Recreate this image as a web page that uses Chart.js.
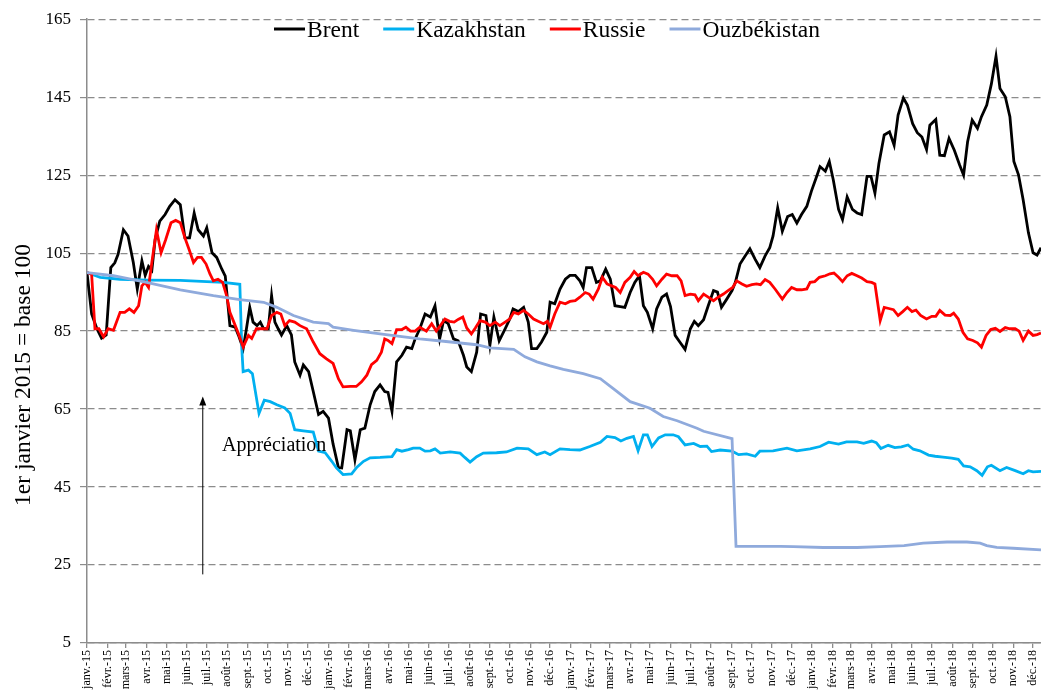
<!DOCTYPE html>
<html><head><meta charset="utf-8">
<script src="https://cdn.jsdelivr.net/npm/chart.js@4.4.0/dist/chart.umd.min.js"></script>
<style>html,body{margin:0;padding:0;background:#fff;}canvas{display:block;}</style>
</head><body>
<canvas id="c" width="1041" height="700"></canvas>
<script>
// ---- Tick labels ----
const monthNames = ['janv.','févr.','mars','avr.','mai','juin','juil.','août','sept.','oct.','nov.','déc.'];
const years = [15,16,17,18];
const yTicks = [5,25,45,65,85,105,125,145,165];
const seriesNames = ['Brent','Kazakhstan','Russie','Ouzbékistan'];
const yTitle = '1er janvier 2015 = base 100';
const annotationText = 'Appréciation';

// ---- Series: [days since 1 Jan 2015, index (1 Jan 2015 = 100)] ----
const brent = [[0,100],[7,89.4],[15,85.6],[22,83.2],[29,84],[36,101.3],[42,102.5],[47,104.7],[55,111],[62,109.4],[70,102.6],[76,95.8],[83,103],[88,99.3],[93,101.6],[98,100.6],[103,108.5],[110,113.2],[118,114.9],[125,117],[133,118.7],[141,117.4],[148,108.9],[155,108.9],[162,115.3],[168,111],[176,109.4],[181,111.5],[189,105.1],[196,103.9],[204,100.8],[209,99.1],[216,86.4],[224,86],[229,83.9],[236,80.5],[241,85.6],[246,91.1],[251,87.3],[257,86.4],[262,87.3],[267,85.6],[274,85.6],[279,94.1],[284,87.3],[289,85.6],[294,84],[302,86.4],[309,84],[314,77.1],[322,73.7],[327,76.3],[335,74.6],[342,69.5],[350,63.6],[357,64.4],[365,62.7],[372,56],[380,50],[385,49.9],[393,59.7],[398,59.4],[405,52],[413,59.7],[420,60.1],[428,66.1],[435,69.5],[443,71.2],[450,69.5],[455,69.3],[461,64.4],[468,77.1],[476,78.8],[483,80.9],[491,80.5],[496,83],[503,85.6],[511,89.4],[519,88.6],[526,91.5],[533,83],[539,87.7],[546,86.9],[554,83],[561,82.5],[569,78.8],[574,75.8],[581,74.6],[589,79.6],[595,89.4],[603,89],[609,81.4],[615,88.6],[623,82.5],[632,85.6],[639,88.1],[644,90.7],[652,90],[660,91.1],[667,87.3],[672,80.5],[680,80.5],[687,82.2],[695,84.7],[700,92.4],[707,92],[715,95.8],[723,98.3],[730,99.3],[738,99.3],[745,97.9],[750,96.2],[755,101.3],[763,101.3],[770,97.5],[776,97.9],[784,100.9],[791,98.3],[798,91.5],[806,91.3],[813,91.1],[821,94.9],[828,97.5],[835,99.2],[841,91.5],[847,89.8],[855,85.6],[861,90.7],[869,93.7],[876,94.5],[882,91.3],[889,83.9],[896,82.2],[904,80.3],[912,85.6],[918,87.5],[924,86.4],[932,87.9],[939,91.5],[947,95.4],[953,95],[959,91.1],[967,93.2],[975,95.4],[980,97.5],[987,102.2],[995,104.3],[1002,106.1],[1010,103.4],[1017,101.3],[1025,104.3],[1032,106.4],[1037,109.4],[1044,116.6],[1051,110.6],[1059,114.4],[1066,114.9],[1073,112.7],[1080,114.9],[1088,117],[1095,120.9],[1103,124.7],[1108,127.2],[1116,126],[1122,128.5],[1128,123.8],[1136,116.2],[1142,113.6],[1149,119.4],[1157,116.2],[1164,115.3],[1171,114.9],[1179,124.7],[1185,124.7],[1191,120.4],[1197,128],[1205,135.3],[1213,136.1],[1220,132.7],[1226,140.4],[1234,144.8],[1240,143],[1248,138.2],[1255,135.9],[1262,134.8],[1269,131.6],[1274,137.8],[1283,139.3],[1289,130.1],[1296,130],[1303,134.4],[1311,131.4],[1319,127.6],[1325,125],[1331,133.5],[1338,139.1],[1346,137],[1352,140],[1360,143],[1367,148.4],[1374,155.5],[1380,147.2],[1388,145.1],[1395,140],[1401,128.5],[1408,125.1],[1415,118.7],[1423,110.2],[1430,105.1],[1436,104.5],[1442,106.4]];

const kazakhstan = [[0,100],[20,98.8],[50,98.3],[90,98.1],[141,98],[181,97.7],[206,97.5],[231,97],[234,80.5],[236,74.6],[244,75],[250,74.1],[260,63.9],[268,67.3],[277,66.9],[287,66.1],[299,65.3],[307,63.9],[314,59.7],[327,59.4],[342,59.1],[350,54.2],[360,53.8],[370,51.6],[377,49.9],[387,48.2],[400,48.4],[408,50.1],[418,51.6],[428,52.5],[443,52.6],[461,52.8],[468,54.6],[476,54.2],[486,54.6],[493,55],[503,55],[511,54.2],[519,54.3],[526,54.8],[534,53.7],[549,54],[564,53.7],[571,52.6],[579,51.4],[589,52.8],[599,53.7],[619,53.8],[634,54],[650,55],[667,54.8],[680,53.3],[692,54],[700,53.3],[715,54.8],[730,54.6],[745,54.5],[760,55.4],[776,56.5],[786,58],[798,57.7],[807,56.8],[816,57.5],[826,58],[833,54.3],[841,58.4],[847,58.4],[854,55.4],[864,57.6],[874,58.4],[886,58.4],[894,57.9],[904,55.8],[917,56.2],[927,55.4],[937,55.5],[944,54.1],[957,54.5],[975,54.2],[985,53.3],[997,53.5],[1010,52.9],[1017,54.2],[1037,54.3],[1058,55],[1073,54.3],[1093,54.8],[1108,55.4],[1121,56.5],[1136,56],[1148,56.6],[1164,56.6],[1174,56.2],[1186,56.8],[1193,56.4],[1200,54.9],[1211,55.7],[1221,55.1],[1231,55.3],[1241,55.8],[1249,54.7],[1259,54.3],[1272,53.2],[1282,52.9],[1294,52.7],[1307,52.4],[1317,52.1],[1325,50.4],[1335,50.2],[1345,49.2],[1353,48],[1361,50.2],[1367,50.6],[1380,49.2],[1390,50],[1403,49.2],[1415,48.4],[1423,49.2],[1430,48.9],[1442,49]];

const russie = [[0,100],[7,99.6],[12,85.6],[18,85.6],[25,83.5],[32,85.6],[40,85.2],[50,89.8],[57,89.8],[64,90.7],[71,89.8],[78,91.5],[83,96.6],[88,97.5],[93,96.2],[98,102.6],[105,111],[112,105.1],[119,108.5],[127,112.8],[134,113.4],[141,112.8],[148,108.9],[155,105.6],[161,102.6],[167,103.9],[173,103.9],[180,102.2],[186,99.6],[191,97.9],[198,98.3],[205,97.5],[211,94.1],[216,89.8],[222,87.3],[229,84.3],[236,80.9],[244,83.9],[249,83.1],[256,85.6],[264,85.6],[272,85.6],[279,89],[287,89.8],[293,89.4],[299,86.4],[306,87.7],[314,87.3],[322,86.4],[332,85.6],[342,82.2],[352,79.2],[362,77.9],[372,76.7],[380,72.8],[387,70.7],[398,70.8],[407,70.8],[415,72],[423,73.7],[430,76.4],[438,77.5],[445,79.6],[450,83],[455,82.6],[461,81.8],[468,85.4],[476,85.4],[482,86],[489,85],[496,85],[503,86],[513,85],[521,86.9],[528,85],[536,86.9],[541,88.1],[548,87.5],[555,87.3],[561,88],[568,88.6],[574,85.8],[581,84.3],[587,85.8],[594,87.7],[602,87.3],[609,86.4],[617,87.3],[624,86.4],[632,87.3],[639,88.1],[645,89.8],[652,89.4],[660,90.3],[667,89.4],[675,88.1],[682,87.5],[690,86.9],[696,87.5],[700,86],[707,89.4],[715,92.4],[723,92],[730,92.6],[738,92.8],[745,93.7],[753,94.9],[759,94.5],[765,93.2],[773,95.8],[779,98.8],[786,97.1],[793,96.6],[799,96.2],[806,94.9],[813,97.5],[821,98.8],[827,100.3],[833,99.2],[841,100.1],[848,99.6],[855,98.3],[861,96.6],[869,98.3],[876,99.6],[884,99.2],[892,99.2],[898,97.9],[904,94.1],[912,94.5],[919,94.3],[924,92.8],[932,94.5],[939,93.7],[947,92.8],[954,93.7],[962,94.5],[969,95.4],[976,96.2],[982,97.9],[990,97.1],[997,96.5],[1005,96.9],[1012,97.1],[1018,96.9],[1025,98.2],[1032,97.5],[1040,95.8],[1051,93.2],[1058,94.9],[1065,96.2],[1073,95.6],[1080,95.6],[1088,95.8],[1093,97.5],[1100,97.7],[1107,98.8],[1116,99.2],[1123,99.7],[1129,99.9],[1136,98.8],[1142,97.7],[1149,99.2],[1156,99.8],[1164,99.2],[1171,98.6],[1179,97.7],[1186,97.5],[1191,97.1],[1199,87.7],[1205,91.1],[1212,90.8],[1219,90.5],[1226,89],[1233,90],[1240,91.1],[1247,90],[1253,90.4],[1260,89],[1269,88.1],[1277,88.8],[1283,88.8],[1289,90.3],[1297,89.1],[1305,89],[1310,89.6],[1317,88.1],[1324,84.7],[1331,83],[1339,82.6],[1346,82],[1352,80.9],[1359,83.9],[1366,85.4],[1373,85.7],[1380,84.9],[1388,85.9],[1395,85.6],[1403,85.6],[1409,85],[1415,82.6],[1423,85],[1430,83.9],[1436,84.1],[1442,84.5]];

const ouzbekistan = [[0,100],[40,99.2],[90,97.5],[141,95.6],[191,94.1],[231,93.1],[267,92.4],[287,91.1],[312,89],[342,87.3],[365,86.9],[372,86],[403,85.2],[443,84.3],[503,83],[539,82.4],[589,81.5],[609,80.7],[645,80.3],[662,78.4],[680,77.1],[700,76.1],[720,75.2],[750,74.1],[776,72.8],[795,70.3],[821,66.9],[851,65.2],[871,63.1],[892,62],[922,60.1],[932,59.3],[975,57.4],[981,29.8],[1048,29.8],[1068,29.7],[1113,29.5],[1164,29.5],[1199,29.7],[1235,30],[1264,30.6],[1300,30.9],[1330,30.9],[1350,30.6],[1360,30],[1375,29.5],[1400,29.3],[1442,28.9]];

const seriesData = [brent, kazakhstan, russie, ouzbekistan];
const seriesColors = ['#000000','#00B0F0','#FF0000','#8FAADC'];

// annotation anchor (in data units: days, index)
const arrowFrom = [175, 22.6];
const arrowTo = [175, 68.2];
const annotationAt = [204, 54.2];

// ---- derived month ticks ----
const base = Date.UTC(2015,0,1);
const monthTicks = [], monthLabels = [];
years.forEach(y => monthNames.forEach((m,i) => {
  monthTicks.push((Date.UTC(2000+y, i, 1) - base) / 86400000);
  monthLabels.push(m + '-' + y);
}));
const lastDay = 1442;

const FONT = 'Liberation Serif';
const GRID = '#8c8c8c';

const overlay = {
  id: 'overlay',
  afterDraw(chart) {
    const ctx = chart.ctx, xs = chart.scales.x, ys = chart.scales.y;
    ctx.save();
    // legend
    ctx.font = '23.5px "' + FONT + '"';
    ctx.textBaseline = 'alphabetic';
    ctx.textAlign = 'left';
    let lx = 274;
    seriesNames.forEach((n, i) => {
      ctx.strokeStyle = seriesColors[i];
      ctx.lineWidth = 3;
      ctx.beginPath(); ctx.moveTo(lx, 29); ctx.lineTo(lx + 31, 29); ctx.stroke();
      ctx.fillStyle = '#000';
      ctx.fillText(n, lx + 33, 37);
      lx += 33 + ctx.measureText(n).width + 24;
    });
    // y title
    ctx.save();
    ctx.translate(24, 375);
    ctx.rotate(-Math.PI / 2);
    ctx.textAlign = 'center';
    ctx.textBaseline = 'middle';
    ctx.font = '23.5px "' + FONT + '"';
    ctx.fillText(yTitle, 0, 0);
    ctx.restore();
    // annotation
    const ax = xs.getPixelForValue(arrowFrom[0]);
    const ay0 = ys.getPixelForValue(arrowFrom[1]);
    const ay1 = ys.getPixelForValue(arrowTo[1]);
    ctx.strokeStyle = '#000'; ctx.fillStyle = '#000'; ctx.lineWidth = 1;
    ctx.beginPath(); ctx.moveTo(ax, ay0); ctx.lineTo(ax, ay1 + 8); ctx.stroke();
    ctx.beginPath(); ctx.moveTo(ax, ay1); ctx.lineTo(ax - 3.5, ay1 + 9); ctx.lineTo(ax + 3.5, ay1 + 9); ctx.closePath(); ctx.fill();
    ctx.font = '20px "' + FONT + '"';
    ctx.textAlign = 'left'; ctx.textBaseline = 'alphabetic';
    ctx.fillText(annotationText, xs.getPixelForValue(annotationAt[0]), ys.getPixelForValue(annotationAt[1]));
    ctx.restore();
  }
};

new Chart(document.getElementById('c'), {
  type: 'line',
  data: {
    datasets: seriesNames.map((n, i) => ({
      label: n,
      data: seriesData[i].map(p => ({x: p[0], y: p[1]})),
      borderColor: seriesColors[i],
      backgroundColor: seriesColors[i],
      borderWidth: 2.8,
      pointRadius: 0,
      tension: 0,
      fill: false,
      order: 4 - i
    }))
  },
  options: {
    responsive: false,
    animation: false,
    devicePixelRatio: 1,
    layout: { padding: { top: 15, left: 0, right: 0, bottom: 0 } },
    plugins: { legend: { display: false }, tooltip: { enabled: false } },
    scales: {
      x: {
        type: 'linear', min: 0, max: lastDay,
        afterBuildTicks: s => { s.ticks = monthTicks.map(v => ({ value: v })); },
        afterFit: s => { s.height = 57; s.paddingLeft = 0; s.paddingRight = 0; },
        ticks: {
          autoSkip: false, minRotation: 90, maxRotation: 90, padding: 2,
          color: '#000', font: { family: FONT, size: 12 },
          callback: (v, i) => monthLabels[i]
        },
        grid: { drawOnChartArea: false, drawTicks: true, tickLength: 5, color: GRID, lineWidth: 1.3 },
        border: { color: GRID, width: 1.5 }
      },
      y: {
        min: 5, max: 165,
        afterBuildTicks: s => { s.ticks = yTicks.map(v => ({ value: v })); },
        afterFit: s => { s.width = 87; },
        ticks: { color: '#000', font: { family: FONT, size: 17 }, padding: 9 },
        grid: { color: GRID, lineWidth: 1.2, tickLength: 7, drawTicks: true, tickBorderDash: [] },
        border: { display: true, color: GRID, width: 1.5, dash: [7, 4] }
      }
    }
  },
  plugins: [overlay]
});
</script>
</body></html>
